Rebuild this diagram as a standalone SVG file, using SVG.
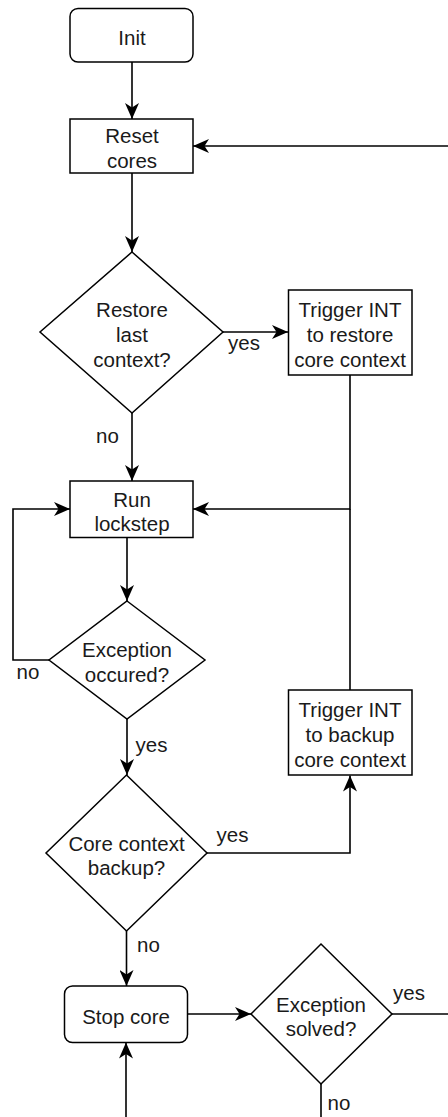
<svg xmlns="http://www.w3.org/2000/svg" width="448" height="1117" viewBox="0 0 448 1117">
<style>
.n{fill:#fff;stroke:#000;stroke-width:1.5}
.t{font-family:"Liberation Sans",Arial,Helvetica,sans-serif;font-size:20.5px;fill:#1a1a1a;text-anchor:middle}
.c{fill:none;stroke:#000;stroke-width:1.6}
</style>
<defs>
<marker id="a" markerUnits="userSpaceOnUse" viewBox="0 0 16 14" refX="16" refY="7" markerWidth="16" markerHeight="14" orient="auto">
<path d="M0,0 L16,7 L0,14 L4.5,7 Z" fill="#000"/>
</marker>
</defs>
<rect width="448" height="1117" fill="#fff"/>
<g id="connectors">
<path class="c" d="M132,62 V119" marker-end="url(#a)"/>
<path class="c" d="M448,146 H193" marker-end="url(#a)"/>
<path class="c" d="M132,173 V252" marker-end="url(#a)"/>
<path class="c" d="M223,332 H288" marker-end="url(#a)"/>
<path class="c" d="M132,413 V481" marker-end="url(#a)"/>
<path class="c" d="M350,375 V509 H193" marker-end="url(#a)"/>
<path class="c" d="M127,538 V601" marker-end="url(#a)"/>
<path class="c" d="M49,660 H13 V509 H70" marker-end="url(#a)"/>
<path class="c" d="M127,719 V775" marker-end="url(#a)"/>
<path class="c" d="M207,853 H350 V775.5" marker-end="url(#a)"/>
<path class="c" d="M350,690 V509"/>
<path class="c" d="M126.5,931 V986" marker-end="url(#a)"/>
<path class="c" d="M126,1117 V1042.5" marker-end="url(#a)"/>
<path class="c" d="M187.5,1014 H251" marker-end="url(#a)"/>
<path class="c" d="M392,1014 H448"/>
<path class="c" d="M321,1084 V1117"/>
<text class="t" x="244" y="350">yes</text>
<text class="t" x="107.5" y="443">no</text>
<text class="t" x="28" y="679">no</text>
<text class="t" x="151.5" y="752">yes</text>
<text class="t" x="232.5" y="842">yes</text>
<text class="t" x="148.5" y="952">no</text>
<text class="t" x="409" y="1000">yes</text>
<text class="t" x="339" y="1110">no</text>
</g>
<g id="init">
<rect class="n" x="70" y="8.5" width="123" height="53.5" rx="8"/>
<text class="t" x="132" y="45">Init</text>
</g>
<g id="reset">
<rect class="n" x="70" y="119" width="123" height="54"/>
<text class="t" x="132" y="143">Reset</text>
<text class="t" x="132" y="168">cores</text>
</g>
<g id="restore">
<polygon class="n" points="132,252 223,332 132,413 40,332"/>
<text class="t" x="132" y="317">Restore</text>
<text class="t" x="132" y="342">last</text>
<text class="t" x="132" y="367">context?</text>
</g>
<g id="trigger-restore">
<rect class="n" x="288.5" y="290" width="123.5" height="85"/>
<text class="t" x="350" y="317">Trigger INT</text>
<text class="t" x="350" y="342">to restore</text>
<text class="t" x="350" y="367">core context</text>
</g>
<g id="run">
<rect class="n" x="70" y="481" width="123" height="56.5"/>
<text class="t" x="132" y="506.5">Run</text>
<text class="t" x="132" y="531">lockstep</text>
</g>
<g id="exception-occured">
<polygon class="n" points="127,601 205,660 127,719 49,660"/>
<text class="t" x="127" y="657">Exception</text>
<text class="t" x="127" y="682">occured?</text>
</g>
<g id="trigger-backup">
<rect class="n" x="288.5" y="690" width="123.5" height="85"/>
<text class="t" x="350" y="717">Trigger INT</text>
<text class="t" x="350" y="742">to backup</text>
<text class="t" x="350" y="767">core context</text>
</g>
<g id="core-backup">
<polygon class="n" points="126.5,775 207,853 126.5,931 46,853"/>
<text class="t" x="126.5" y="851">Core context</text>
<text class="t" x="126.5" y="875">backup?</text>
</g>
<g id="stop">
<rect class="n" x="64.5" y="986" width="123" height="56.5" rx="8"/>
<text class="t" x="126" y="1024">Stop core</text>
</g>
<g id="exception-solved">
<polygon class="n" points="321,944 392,1014 321,1084 251,1014"/>
<text class="t" x="321" y="1012">Exception</text>
<text class="t" x="321" y="1036">solved?</text>
</g>
</svg>
